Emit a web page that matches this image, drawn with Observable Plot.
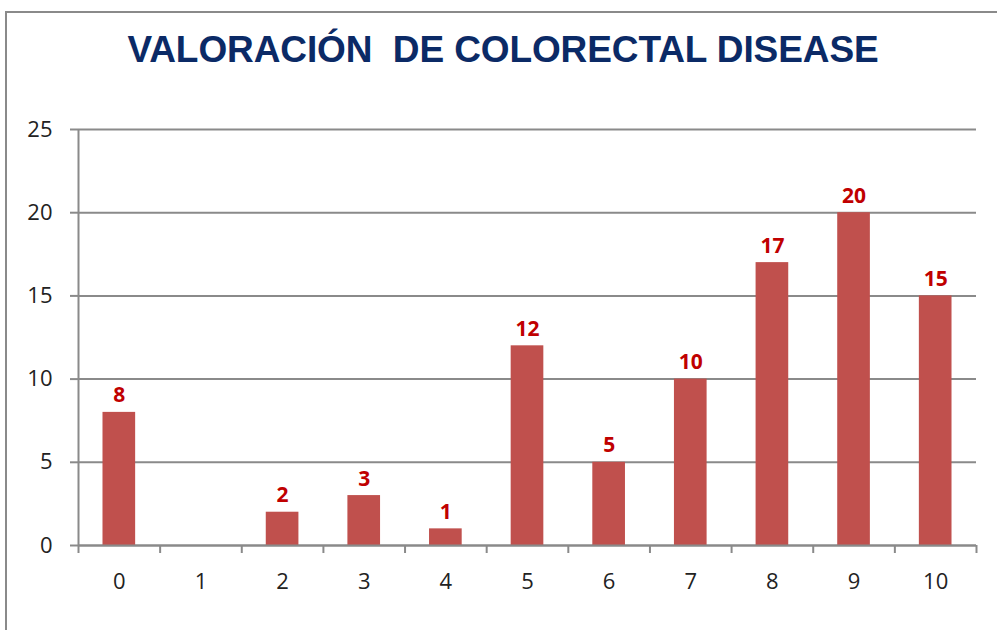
<!DOCTYPE html>
<html>
<head>
<meta charset="utf-8">
<script src="https://cdn.jsdelivr.net/npm/d3@7"></script>
<script src="https://cdn.jsdelivr.net/npm/@observablehq/plot@0.6"></script>
<style>
  html, body { margin: 0; padding: 0; background: #fff; }
  #wrap { position: relative; width: 997px; height: 630px; overflow: hidden; background: #fff; }
  #frame { position: absolute; left: 5px; top: 11px; width: 1100px; height: 700px; border-left: 2px solid #8a8a8a; border-top: 2px solid #8a8a8a; box-sizing: border-box; }
  #title { position: absolute; left: 0; width: 1006px; top: 29px; text-align: center; font-family: "Liberation Sans", Arial, sans-serif; font-weight: bold; font-size: 37px; color: #0b2a66; white-space: pre; letter-spacing: -0.1px; }
  #chart { position: absolute; left: 0; top: 0; }
</style>
</head>
<body>
<div id="wrap">
  <div id="frame"></div>
  <div id="chart"></div>
  <div id="title">VALORACIÓN  DE COLORECTAL DISEASE</div>
</div>
<script>
const categories = [0, 1, 2, 3, 4, 5, 6, 7, 8, 9, 10];
const values = [8, 0, 2, 3, 1, 12, 5, 10, 17, 20, 15];
const yTicks = [0, 5, 10, 15, 20, 25];

const data = categories.map((c, i) => ({cat: c, value: values[i]}));
const labeled = data.filter(d => d.value > 0);
const boundaries = categories.map(c => c - 0.5).concat([categories[categories.length - 1] + 0.5]);

const font = "'Open Sans', sans-serif";

const chart = Plot.plot({
  width: 997,
  height: 630,
  marginLeft: 78,
  marginRight: 21,
  marginTop: 129,
  marginBottom: 85,
  style: {fontFamily: font, fontSize: "22px", color: "#222", background: "transparent"},
  x: {domain: [categories[0] - 0.5, categories[categories.length - 1] + 0.5]},
  y: {domain: [0, 25]},
  marks: [
    Plot.gridY(yTicks, {stroke: "#8a8a8a", strokeOpacity: 1, strokeWidth: 2}),
    Plot.axisY(yTicks, {tickSize: 8, tickPadding: 18, stroke: "#8a8a8a", strokeWidth: 2, label: null, fontSize: 22, fill: "#222"}),
    Plot.ruleX([boundaries[0]], {stroke: "#8a8a8a", strokeWidth: 2}),
    Plot.rectY(data, {x1: d => d.cat - 0.2, x2: d => d.cat + 0.2, y: "value", fill: "#c0504d"}),
    Plot.ruleY([0], {stroke: "#8a8a8a", strokeWidth: 2}),
    Plot.axisX(boundaries, {tickSize: 8, tickFormat: () => "", stroke: "#8a8a8a", strokeWidth: 2, label: null}),
    Plot.axisX(categories, {tickSize: 0, tickPadding: 28, label: null, fontSize: 22, fill: "#222"}),
    Plot.text(labeled, {x: "cat", y: "value", text: d => String(d.value), lineAnchor: "bottom", dy: -10, fill: "#c00000", fontWeight: "bold", fontSize: 21, fontFamily: font})
  ]
});
document.getElementById("chart").appendChild(chart);
</script>
</body>
</html>
